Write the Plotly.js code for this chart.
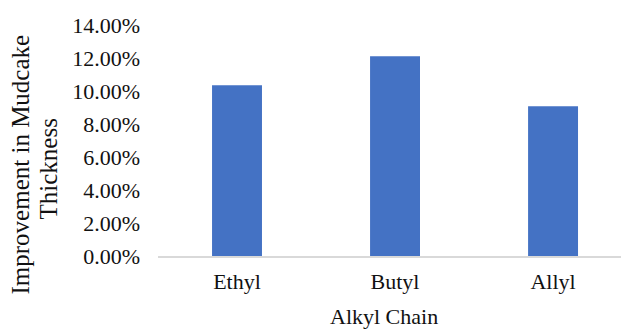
<!DOCTYPE html>
<html>
<head>
<meta charset="utf-8">
<script src="https://cdn.plot.ly/plotly-3.0.1.min.js"></script>
<style>
  html, body { margin: 0; padding: 0; background: #ffffff; }
  #chart { width: 621px; height: 331px; }
</style>
</head>
<body>
<div id="chart"></div>
<script>
// Alkyl chain length vs. improvement in mudcake thickness
const chains = ['Ethyl', 'Butyl', 'Allyl'];
const improvement = [0.1035, 0.1210, 0.0908];
const yTicks = [0, 0.02, 0.04, 0.06, 0.08, 0.10, 0.12, 0.14];
const yTitleLines = ['Improvement in Mudcake', 'Thickness'];
const xTitle = 'Alkyl Chain';

const serif = '"Liberation Serif", "Times New Roman", serif';
const ink = '#111111';

const trace = {
  type: 'bar',
  x: chains,
  y: improvement,
  width: 0.316,
  marker: { color: '#4472C4', line: { width: 0 } },
  hoverinfo: 'x+y'
};

// y-axis title drawn as two rotated lines for tighter line spacing
const yTitleAnnotations = yTitleLines.map((line, i) => ({
  text: line,
  xref: 'paper', yref: 'paper',
  x: 0, y: 0.5,
  xshift: i === 0 ? -138 : -110,
  yshift: i === 0 ? -24 : -29,
  xanchor: 'center', yanchor: 'middle',
  textangle: -90,
  showarrow: false,
  font: { family: serif, size: 25, color: ink }
}));

const layout = {
  width: 621,
  height: 331,
  margin: { l: 158, r: 0, t: 24.5, b: 74.5 },
  paper_bgcolor: '#ffffff',
  plot_bgcolor: '#ffffff',
  showlegend: false,
  font: { family: serif, size: 22, color: ink },
  xaxis: {
    type: 'category',
    range: [-0.5, 2.43],
    showline: true,
    linecolor: '#d9d9d9',
    linewidth: 2,
    showgrid: false,
    zeroline: false,
    ticks: '',
    ticklabelstandoff: 5,
    tickfont: { family: serif, size: 22, color: ink }
  },
  yaxis: {
    range: [0, 0.14],
    tickvals: yTicks,
    tickformat: '.2%',
    showline: false,
    showgrid: false,
    zeroline: false,
    ticks: '',
    ticklabelstandoff: 17,
    tickfont: { family: serif, size: 22, color: ink }
  },
  annotations: yTitleAnnotations.concat([
    {
      text: xTitle,
      xref: 'paper', yref: 'paper',
      x: 0.5, y: 0,
      xshift: -6, yshift: -60,
      xanchor: 'center', yanchor: 'middle',
      showarrow: false,
      font: { family: serif, size: 22, color: ink }
    }
  ])
};

Plotly.newPlot('chart', [trace], layout, { displayModeBar: false, staticPlot: true });
</script>
</body>
</html>
